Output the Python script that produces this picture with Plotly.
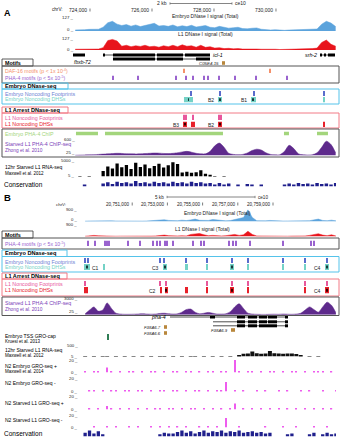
import plotly.graph_objects as go

W, H = 342, 440
FONT = "Liberation Sans, Arial, sans-serif"

# ================= DATA: panel A (chrV, ce10) =================
A_RANGE = [723452, 731936]
A_TICKS = [724000, 726000, 728000, 730000]
A_TICK_LABELS = ["724,000", "726,000", "728,000", "730,000"]
A_SCALE = [726580, 728580]          # 2 kb
A_BIN_START, A_BIN_SIZE = 723450, 150

A_EMB_DNASE = [10, 14, 12, 15, 18, 16, 35, 75, 88, 62, 50, 58, 44, 55, 40, 52,
               62, 70, 45, 50, 42, 55, 38, 48, 40, 52, 36, 45, 50, 34, 30, 42,
               36, 26, 30, 34, 22, 20, 25, 28, 16, 12, 9, 12, 7, 6, 9, 11, 7,
               9, 11, 14, 18, 62, 88, 72, 40]
A_L1_DNASE = [8, 10, 8, 10, 12, 10, 25, 100, 112, 95, 40, 50, 35, 45, 38, 50,
              35, 40, 30, 45, 35, 50, 35, 55, 40, 45, 30, 50, 28, 35, 20, 25,
              15, 18, 12, 15, 10, 12, 15, 10, 8, 10, 6, 8, 5, 6, 8, 5, 6, 8,
              10, 15, 20, 80, 105, 60, 40]
A_PHA4_CHIP = [10, 15, 20, 25, 30, 40, 50, 60, 70, 80, 75, 65, 60, 55, 60, 70,
               80, 90, 85, 75, 70, 80, 100, 130, 150, 120, 80, 60, 60, 150, 350,
               450, 300, 80, 40, 30, 40, 90, 180, 230, 200, 100, 40, 25, 30,
               150, 370, 250, 60, 25, 20, 30, 100, 300, 520, 400, 100]
A_RNASEQ = [0, 60, 0, 80, 0, 0, 1800, 3200, 2600, 4200, 3000, 3700, 2400, 4400,
            3100, 3900, 2700, 3400, 4100, 2900, 3600, 4600, 4000, 1300, 1500,
            1200, 1400, 2000, 900, 600, 150, 0, 40, 0, 0, 0, 0, 0, 0, 0, 0, 0,
            0, 0, 0, 0, 0, 0, 0, 0, 0, 0, 0, 0, 0, 0, 0]
A_CONS = [0, 0, 0.2, 0, 0, 0, 0.5, 0.7, 0.4, 0.8, 0.6, 0.7, 0.5, 0.9, 0.6, 0.7,
          0.5, 0.8, 0.6, 0.7, 0.5, 0.8, 0.6, 0.7, 0.5, 0.8, 0.6, 0.7, 0.5, 0.6,
          0.3, 0.6, 0.2, 0.5, 0, 0.3, 0, 0.4, 0.2, 0, 0.3, 0, 0, 0, 0, 0.3,
          0.5, 0.2, 0.6, 0.4, 0.5, 0.3, 0.6, 0.4, 0.5, 0.3, 0.6]

A_DAF16_MOTIFS = [727030, 729810]
A_PHA4_MOTIFS = [724742, 725548, 726774, 727097, 727323, 727677, 727806,
                 728161, 728677, 729355, 730355]
A_EMB_FOOTPRINTS = [727258, 728194, 729290, 731548]
A_EMB_DHS = [(727032, 727323), (728129, 728258), (729194, 729355), (731532, 731565)]
A_EMB_DHS_NAMES = ["", "B2", "B1", ""]
A_EMB_SUMMITS = [727178, 728194, 729274]
A_L1_FOOTPRINTS = [727032, 727097, 727323, 728161, 728226]
A_L1_DHS = [(727000, 727129), (727258, 727387), (728129, 728258), (731532, 731565)]
A_L1_DHS_NAMES = ["B3", "", "B2", ""]
A_L1_SUMMITS = [727065, 728194]
A_EMB_PHA4_PEAKS = [(723548, 724258), (724484, 728290), (730258, 730419), (731323, 731677)]

A_GENES = [  # name, start, end, exons
    ("fbxb-72", 723452, 723839, [(723452, 723839)]),
    ("icl-1", 724419, 727871, [(724419, 724484), (724742, 726097), (726161, 727000), (727065, 727871)]),
    ("", 724742, 727871, [(724742, 726097), (726161, 727000), (727419, 727871)]),
    ("srh-2", 731419, 731903, [(731419, 731484), (731548, 731613), (731677, 731903)]),
]
A_SMALL_GENES = [("C05E4.15", 728258, 728355)]

# ================= DATA: panel B (chrV, ce10) =================
B_RANGE = [20748204, 20762580]
B_TICKS = [20751000, 20753000, 20755000, 20757000, 20759000]
B_TICK_LABELS = ["20,751,000", "20,753,000", "20,755,000", "20,757,000", "20,759,000"]
B_SCALE = [20752980, 20757980]      # 5 kb
B_BIN_START, B_BIN_SIZE = 20748200, 250

B_EMB_DNASE = [30, 40, 35, 50, 60, 80, 50, 40, 30, 35, 30, 40, 35, 30, 40, 50,
               60, 90, 130, 80, 50, 60, 100, 70, 120, 180, 90, 60, 80, 150, 100,
               60, 50, 70, 150, 200, 300, 880, 300, 60, 40, 50, 80, 50, 40, 35,
               40, 30, 40, 35, 50, 60, 120, 180, 80, 60, 100, 50]
B_L1_DNASE = [20, 60, 80, 50, 30, 40, 30, 20, 25, 20, 30, 25, 20, 20, 25, 30,
              40, 80, 100, 60, 30, 40, 50, 40, 150, 200, 220, 120, 60, 80, 50,
              40, 60, 120, 150, 80, 120, 380, 150, 40, 30, 25, 20, 30, 20, 25,
              20, 30, 25, 20, 40, 80, 150, 200, 100, 60, 120, 40]
B_PHA4_CHIP = [200, 900, 1500, 700, 900, 2250, 1200, 300, 150, 100, 100, 120,
               150, 200, 150, 120, 150, 250, 300, 200, 150, 200, 500, 1000, 1100,
               500, 200, 300, 450, 300, 150, 150, 200, 600, 1500, 2100, 1200, 300,
               150, 100, 80, 80, 100, 120, 100, 150, 120, 100, 150, 300, 900,
               1500, 1000, 500, 1500, 2400, 1800, 400]
B_RNASEQ = [5, 0, 5, 0, 5, 5, 0, 5, 0, 5, 0, 5, 0, 5, 0, 5, 0, 5, 5, 0, 5, 0, 5,
            0, 5, 5, 0, 5, 0, 5, 0, 5, 0, 5, 0, 60, 120, 130, 220, 140, 120, 130,
            240, 140, 130, 120, 130, 125, 110, 30, 0, 5, 0, 5, 0, 0, 0, 0]
B_GRO_EMB_PLUS = [1, 0, 1, 1, 0, 8, 1, 0, 1, 0, 1, 1, 0, 1, 0, 1, 1, 0, 1, 0, 2,
                  1, 0, 1, 1, 0, 1, 0, 1, 1, 0, 1, 1, 0, 20, 1, 0, 1, 1, 0, 1, 0,
                  1, 1, 0, 1, 0, 1, 1, 0, 1, 0, 1, 2, 1, 0, 1, 0]
B_GRO_EMB_MINUS = [0, 1, 1, 0, 1, 0, 1, 1, 0, 1, 1, 0, 1, 1, 0, 1, 0, 1, 1, 0,
                   1, 1, 0, 1, 0, 1, 1, 0, 1, 0, 1, 1, 14, 0, 1, 0, 1, 0, 0, 1,
                   0, 1, 0, 0, 1, 0, 1, 0, 0, 1, 0, 1, 0, 0, 1, 0, 0, 1]
B_GRO_L1_PLUS = [0, 1, 0, 1, 0, 5, 1, 0, 1, 0, 1, 0, 1, 0, 1, 0, 1, 1, 0, 1, 1,
                 0, 1, 0, 1, 1, 0, 1, 0, 1, 0, 1, 0, 1, 9, 0, 1, 0, 1, 0, 1, 0,
                 1, 0, 1, 0, 1, 0, 1, 0, 1, 0, 1, 0, 1, 0, 1, 0]
B_GRO_L1_MINUS = [0, 0, 1, 0, 0, 1, 0, 1, 0, 0, 1, 0, 1, 0, 0, 1, 0, 1, 0, 1, 0,
                  1, 0, 1, 0, 0, 1, 0, 1, 0, 1, 0, 15, 0, 0, 1, 0, 0, 0, 0, 0, 1,
                  0, 0, 0, 1, 0, 0, 1, 0, 0, 0, 1, 0, 0, 1, 0, 0]
B_CONS = [0.5, 0.8, 0.4, 0.7, 0.3, 0, 0, 0, 0, 0, 0, 0, 0, 0, 0, 0, 0, 0.3, 0.5,
          0.4, 0.4, 0.6, 0.8, 0.5, 0.7, 0.4, 0.6, 0.8, 0.5, 0.7, 0.6, 0.8, 0.5,
          0.7, 0.6, 0.8, 0.5, 0.6, 0.7, 0.5, 0.6, 0.4, 0.5, 0, 0, 0, 0.3, 0.4,
          0, 0, 0, 0.3, 0.5, 0, 0.3, 0.5, 0.3, 0.4]

B_PHA4_MOTIFS = [20748488, 20748886, 20749454, 20749568, 20749682, 20750761,
                 20751443, 20752182, 20752409, 20752579, 20752863, 20752977,
                 20753318, 20754454, 20754909, 20755079, 20756500, 20756727,
                 20756898, 20757693, 20759568, 20761159, 20761330]
B_EMB_FOOTPRINTS = [20748318, 20748488, 20752579, 20752807, 20754057, 20755250,
                    20756670, 20757580, 20759568, 20760818, 20762068]
B_EMB_DHS = [(20748261, 20748602), (20749341, 20749454), (20752750, 20752977),
             (20754000, 20754170), (20755193, 20755307), (20756557, 20756784),
             (20757551, 20757608), (20759540, 20759597), (20760761, 20760875),
             (20761955, 20762182)]
B_EMB_DHS_NAMES = ["", "C1", "C3", "", "", "", "", "", "", "C4"]
B_EMB_SUMMITS = [20748431, 20752863, 20756670, 20762068]
B_L1_FOOTPRINTS = [20748318, 20752579, 20752920, 20755250, 20756670, 20757580,
                   20760818, 20762068]
B_L1_DHS = [(20748261, 20748488), (20752579, 20752693), (20752863, 20753034),
            (20754000, 20754170), (20755193, 20755307), (20756557, 20756784),
            (20757551, 20757608), (20760761, 20760875), (20761955, 20762182)]
B_L1_DHS_NAMES = ["", "C2", "", "", "", "", "", "", "C4"]
B_L1_SUMMITS = [20752948, 20756670, 20762068]
B_GROCAP = [20749625]

B_GENES = [  # name, start, end, exons
    ("pha-4", 20753148, 20759852, [(20755420, 20755704), (20756954, 20757409), (20757580, 20758091),
                                   (20758205, 20758659), (20758716, 20759227), (20759682, 20759852)]),
    ("", 20755591, 20759852, [(20756954, 20757409), (20757580, 20758091), (20758205, 20758659),
                              (20758716, 20759227), (20759682, 20759852)]),
    ("", 20755591, 20759852, [(20756954, 20757409), (20757580, 20758091), (20758205, 20759227),
                              (20759682, 20759852)]),
]
B_SMALL_GENES = [("F38A6.7", 20752807, 20752977), ("F38A6.9", 20756614, 20756841),
                 ("F38A6.6", 20752807, 20752977)]

# ================= styling / layout helpers =================
C_BLUE = "#5ba3dc"
C_RED = "#e8141c"
C_PURPLE_SIG = "#5e2a8c"
C_PURPLE_TXT = "#7b41b8"
C_MOTIF = "#9a63cf"
C_DAF = "#f4906a"
C_EMB_BOX = "#55c3ea"
C_EMB_FP = "#5a6ccc"
C_EMB_FP_TXT = "#6d7fd4"
C_EMB_DHS = "#74d2c6"
C_L1_BOX = "#f27b86"
C_L1_FP = "#e8579b"
C_L1_DHS = "#e8202a"
C_GREEN = "#a3d57c"
C_CONS = "#1f1f8c"
C_GRO = "#ee5cee"
C_BROWN = "#b8873c"

fig = go.Figure()
axes = {}
anns = []
shapes = []
ycount = [0]

axes["xaxis"] = dict(domain=[73 / W, 336 / W], range=A_RANGE, visible=False, anchor="y", fixedrange=True)
axes["xaxis2"] = dict(domain=[83 / W, 336 / W], range=B_RANGE, visible=False, anchor="y", fixedrange=True)


def band(xa, top, bottom, yr):
    ycount[0] += 1
    n = ycount[0]
    key = "yaxis" if n == 1 else "yaxis%d" % n
    axes[key] = dict(domain=[1 - bottom / H, 1 - top / H], range=yr, visible=False,
                     anchor=xa, fixedrange=True)
    return "y" if n == 1 else "y%d" % n


def centers(start, size, vals):
    return [start + size * (i + 0.5) for i in range(len(vals))]


def area(xa, ya, start, size, vals, color, shape="linear"):
    fig.add_trace(go.Scatter(x=centers(start, size, vals), y=vals, xaxis=xa, yaxis=ya,
                             mode="lines", fill="tozeroy", fillcolor=color,
                             line=dict(color=color, width=0.5, shape=shape, smoothing=0.8),
                             hoverinfo="skip"))


def bars(xa, ya, start, size, vals, color, frac):
    fig.add_trace(go.Bar(x=centers(start, size, vals), y=vals, width=size * frac, xaxis=xa, yaxis=ya,
                         marker=dict(color=color, line=dict(width=0)), hoverinfo="skip"))


def ticks(xa, ya, pos, color, w):
    fig.add_trace(go.Bar(x=pos, y=[1] * len(pos), base=0, width=w, xaxis=xa, yaxis=ya,
                         marker=dict(color=color, line=dict(width=0)), hoverinfo="skip"))


def intervals(xa, ya, ivs, color, minw, base=0, height=1):
    fig.add_trace(go.Bar(x=[(s + e) / 2 for s, e in ivs], y=[height] * len(ivs), base=base,
                         width=[max(e - s, minw) for s, e in ivs], xaxis=xa, yaxis=ya,
                         marker=dict(color=color, line=dict(width=0)), hoverinfo="skip"))


def gene(xa, ya, row, start, end, exons, lw=3):
    fig.add_trace(go.Scatter(x=[start, end], y=[row, row], xaxis=xa, yaxis=ya, mode="lines",
                             line=dict(color="black", width=0.7), hoverinfo="skip"))
    xs, ys = [], []
    for s, e in exons:
        xs += [s, e, None]
        ys += [row, row, None]
    fig.add_trace(go.Scatter(x=xs, y=ys, xaxis=xa, yaxis=ya, mode="lines",
                             line=dict(color="black", width=lw), hoverinfo="skip"))


def txt(s, x, y, size=5.0, color="black", anchor="left", bold=False, italic=False,
        xref="paper", xshift=0):
    if bold:
        s = "<b>%s</b>" % s
    if italic:
        s = "<i>%s</i>" % s
    anns.append(dict(text=s, x=(x / W if xref == "paper" else x), y=1 - y / H, xref=xref,
                     yref="paper", xanchor=anchor, yanchor="middle", showarrow=False,
                     xshift=xshift, borderpad=0,
                     font=dict(size=size, color=color, family=FONT)))


def rect(x0, y0, x1, y1, color, lw=1.0):
    shapes.append(dict(type="rect", xref="paper", yref="paper", x0=x0 / W, x1=x1 / W,
                       y0=1 - y1 / H, y1=1 - y0 / H, line=dict(color=color, width=lw),
                       fillcolor="rgba(0,0,0,0)", layer="above"))


def coord_axis(xref, tick_vals, tick_labels, scale, scale_label, y, size, scale_y):
    for t, lab in zip(tick_vals, tick_labels):
        txt(lab, t, y, size, "#222", anchor="right", xref=xref, xshift=-2)
        shapes.append(dict(type="line", xref=xref, yref="paper", x0=t, x1=t,
                           y0=1 - (y + 1.5) / H, y1=1 - (y - 1.5) / H,
                           line=dict(color="#444", width=0.7)))
    shapes.append(dict(type="line", xref=xref, yref="paper", x0=scale[0], x1=scale[1],
                       y0=1 - scale_y / H, y1=1 - scale_y / H, line=dict(color="#666", width=0.8)))
    for xv in scale:
        shapes.append(dict(type="line", xref=xref, yref="paper", x0=xv, x1=xv,
                           y0=1 - (scale_y + 1.2) / H, y1=1 - (scale_y - 1.2) / H,
                           line=dict(color="#666", width=0.7)))
    txt(scale_label, scale[0], scale_y, size, "#222", anchor="right", xref=xref, xshift=-2)
    txt("ce10", scale[1], scale_y, size, "#222", anchor="left", xref=xref, xshift=2)


def labeled_dhs(xref, ivs, names, y, size=5):
    for (s, e), nm in zip(ivs, names):
        if nm:
            txt(nm, s, y, size, "#222", anchor="right", xref=xref, xshift=-3)


# ================= PANEL A =================
txt("A", 3, 13, 9, bold=True)
coord_axis("x", A_TICKS, A_TICK_LABELS, A_SCALE, "2 kb", 10, 5, 3.5)
txt("chrV:", 51, 10, 4.6, "#222")

ya = band("x", 17, 31, [0, 127])
area("x", ya, A_BIN_START, A_BIN_SIZE, A_EMB_DNASE, C_BLUE)
txt("Embryo DNase I signal (Total)", 205, 15.5, 5, "#222", anchor="center")
txt("127 _", 75, 18, 4.4, "#222", anchor="right")
txt("0 _", 75, 30, 4.4, "#222", anchor="right")

ya = band("x", 38, 50, [0, 127])
area("x", ya, A_BIN_START, A_BIN_SIZE, A_L1_DNASE, C_RED)
txt("L1 DNase I signal (Total)", 205, 34, 5, "#222", anchor="center")
txt("127 _", 75, 38.5, 4.4, "#222", anchor="right")
txt("0 _", 75, 49.5, 4.4, "#222", anchor="right")

ya = band("x", 53, 65, [2.5, -0.5])
gene_rows_A = [0, 0, 1, 0]
for (nm, s, e, ex), r in zip(A_GENES, gene_rows_A):
    gene("x", ya, r, s, e, ex, lw=3)
txt("fbxb-72", A_GENES[0][1], 61.5, 5, anchor="left", italic=True, xref="x")
txt("icl-1", A_GENES[1][2], 55, 5.3, anchor="left", italic=True, xref="x", xshift=2)
txt("srh-2", A_GENES[3][1], 55, 5.3, anchor="right", italic=True, xref="x", xshift=-2)
for nm, s, e in A_SMALL_GENES:
    intervals("x", ya, [(s, e)], C_BROWN, 80, base=1.55, height=0.9)
    txt(nm, s, 63, 4.4, "#222", anchor="right", italic=True, xref="x", xshift=-2)

# motifs
rect(2, 59, 33, 66, "#333", 0.8)
txt("Motifs", 4, 62.5, 5.4, bold=True)
rect(2, 66, 339, 83, "#555", 1)
txt("DAF-16 motifs (p < 1x 10<sup>-4</sup>)", 4, 71, 5.2, C_DAF)
txt("PHA-4 motifs (p < 5x 10<sup>-5</sup>)", 4, 78, 5.2, C_MOTIF)
ya = band("x", 68.5, 73, [0, 1])
ticks("x", ya, A_DAF16_MOTIFS, C_DAF, 40)
ya = band("x", 75.5, 80, [0, 1])
ticks("x", ya, A_PHA4_MOTIFS, C_MOTIF, 40)

# embryo DNase-seq
rect(2, 83, 68, 89, C_EMB_BOX, 1)
txt("Embryo DNase-seq", 4, 86, 5.6, bold=True)
rect(2, 89, 339, 104, C_EMB_BOX, 1)
txt("Embryo Noncoding Footprints", 4, 93.5, 5.3, C_EMB_FP_TXT)
txt("Embryo Noncoding DHSs", 4, 99.5, 5.3, C_EMB_DHS)
ya = band("x", 91, 96, [0, 1])
ticks("x", ya, A_EMB_FOOTPRINTS, C_EMB_FP, 45)
ya = band("x", 97, 102.5, [0, 1])
intervals("x", ya, A_EMB_DHS, C_EMB_DHS, 32)
intervals("x", ya, [(p - 16, p + 16) for p in A_EMB_SUMMITS], "#1a3a3a", 32, base=0.25, height=0.5)
labeled_dhs("x", A_EMB_DHS, A_EMB_DHS_NAMES, 100)

# L1 DNase-seq
rect(2, 107, 68, 113, C_L1_BOX, 1)
txt("L1 Arrest DNase-seq", 4, 110, 5.6, bold=True)
rect(2, 113, 339, 128, C_L1_BOX, 1)
txt("L1 Noncoding Footprints", 4, 117.5, 5.3, C_L1_FP)
txt("L1 Noncoding DHSs", 4, 123.5, 5.3, C_L1_DHS)
ya = band("x", 114.5, 120, [0, 1])
ticks("x", ya, A_L1_FOOTPRINTS, C_L1_FP, 40)
ya = band("x", 121.5, 127, [0, 1])
intervals("x", ya, A_L1_DHS, C_L1_DHS, 32)
intervals("x", ya, [(p - 16, p + 16) for p in A_L1_SUMMITS], "#3a0000", 32, base=0.25, height=0.5)
labeled_dhs("x", A_L1_DHS, A_L1_DHS_NAMES, 124.5)

# PHA-4 ChIP
rect(2, 129, 339, 157, "#555", 1)
txt("Embryo PHA-4 ChIP", 4, 133.5, 5.3, C_GREEN)
ya = band("x", 131.5, 135.5, [0, 1])
intervals("x", ya, A_EMB_PHA4_PEAKS, C_GREEN, 32)
txt("Starved L1 PHA-4 ChIP-seq", 4, 144, 5.3, C_PURPLE_TXT)
txt("Zhong et al. 2010", 4, 150.5, 4.8, C_PURPLE_TXT)
txt("600 _", 76, 139.5, 4.3, "#222", anchor="right")
txt("25 _", 76, 153, 4.3, "#222", anchor="right")
ya = band("x", 139, 155.5, [0, 600])
area("x", ya, A_BIN_START, A_BIN_SIZE, A_PHA4_CHIP, C_PURPLE_SIG, shape="spline")

# RNA-seq
txt("5000 _", 76, 160.5, 4.3, "#222", anchor="right")
txt("5 _", 76, 175.5, 4.3, "#222", anchor="right")
txt("12hr Starved L1 RNA-seq", 4, 167, 5)
txt("Maxwell et al. 2012", 4, 173, 4.5)
ya = band("x", 161, 176.5, [0, 5000])
bars("x", ya, A_BIN_START, A_BIN_SIZE, A_RNASEQ, "black", 0.7)

# conservation
txt("Conservation", 3, 184, 6.5)
ya = band("x", 180.5, 186.5, [0, 1])
bars("x", ya, A_BIN_START, A_BIN_SIZE, A_CONS, C_CONS, 0.75)

# ================= PANEL B =================
txt("B", 3, 198, 9.5, bold=True)
coord_axis("x2", B_TICKS, B_TICK_LABELS, B_SCALE, "5 kb", 204, 4.6, 197)
txt("chrV:", 55, 204, 4.4, "#222")

ya = band("x2", 209.5, 221.5, [0, 900])
area("x2", ya, B_BIN_START, B_BIN_SIZE, B_EMB_DNASE, C_BLUE)
txt("Embryo DNase I signal (Total)", 217, 213, 5, "#222", anchor="center")
txt("900 _", 78, 209.5, 4.2, "#222", anchor="right")
txt("0 _", 78, 219.8, 4.2, "#222", anchor="right")

ya = band("x2", 224, 236.5, [0, 900])
area("x2", ya, B_BIN_START, B_BIN_SIZE, B_L1_DNASE, C_RED)
txt("L1 DNase I signal (Total)", 202, 228.5, 5, "#222", anchor="center")
txt("900 _", 78, 224.5, 4.2, "#222", anchor="right")

rect(2, 231, 33, 238, "#333", 0.8)
txt("Motifs", 4, 234.5, 5.4, bold=True)
rect(2, 238, 339, 249, "#555", 1)
txt("PHA-4 motifs (p < 5x 10<sup>-5</sup>)", 4, 243.5, 5.2, C_MOTIF)
ya = band("x2", 240.5, 246, [0, 1])
ticks("x2", ya, B_PHA4_MOTIFS, C_MOTIF, 60)

rect(2, 250, 67, 256.5, C_EMB_BOX, 1)
txt("Embryo DNase-seq", 4, 253.2, 5.6, bold=True)
rect(2, 256.5, 339, 272, C_EMB_BOX, 1)
txt("Embryo Noncoding Footprints", 4, 261.5, 5.3, C_EMB_FP_TXT)
txt("Embryo Noncoding DHSs", 4, 267, 5.3, C_EMB_DHS)
ya = band("x2", 258, 263, [0, 1])
ticks("x2", ya, B_EMB_FOOTPRINTS, C_EMB_FP, 70)
ya = band("x2", 264, 270, [0, 1])
intervals("x2", ya, B_EMB_DHS, C_EMB_DHS, 57)
intervals("x2", ya, [(p - 28, p + 28) for p in B_EMB_SUMMITS], "#1a3a3a", 57, base=0.25, height=0.5)
labeled_dhs("x2", B_EMB_DHS, B_EMB_DHS_NAMES, 267.5)

rect(2, 273, 67, 279, C_L1_BOX, 1)
txt("L1 Arrest DNase-seq", 4, 276, 5.6, bold=True)
rect(2, 279, 339, 296, C_L1_BOX, 1)
txt("L1 Noncoding Footprints", 4, 284, 5.3, C_L1_FP)
txt("L1 Noncoding DHSs", 4, 290, 5.3, C_L1_DHS)
ya = band("x2", 281, 286, [0, 1])
ticks("x2", ya, B_L1_FOOTPRINTS, C_L1_FP, 65)
ya = band("x2", 287, 293.5, [0, 1])
intervals("x2", ya, B_L1_DHS, C_L1_DHS, 57)
intervals("x2", ya, [(p - 28, p + 28) for p in B_L1_SUMMITS], "#3a0000", 57, base=0.25, height=0.5)
labeled_dhs("x2", B_L1_DHS, B_L1_DHS_NAMES, 290.5)

rect(2, 297, 339, 315.5, "#555", 1)
txt("Starved L1 PHA-4 ChIP-seq", 4, 302.5, 5.3, C_PURPLE_TXT)
txt("Zhong et al. 2010", 4, 309, 4.8, C_PURPLE_TXT)
txt("3000 _", 79, 298.5, 4.3, "#222", anchor="right")
txt("25 _", 79, 311, 4.3, "#222", anchor="right")
ya = band("x2", 299, 314.8, [0, 3000])
area("x2", ya, B_BIN_START, B_BIN_SIZE, B_PHA4_CHIP, C_PURPLE_SIG, shape="spline")

# genes B
ya = band("x2", 315, 337, [5, -0.5])
gene_rows_B = [0, 1.2, 2.2]
for (nm, s, e, ex), r in zip(B_GENES, gene_rows_B):
    gene("x2", ya, r, s, e, ex, lw=3)
txt("pha-4", B_GENES[0][1], 317, 5.4, anchor="right", italic=True, xref="x2", xshift=-3)
small_rows_B = [2.5, 3.25, 4]
small_y_B = [327, 330, 333]
for (nm, s, e), r, yy in zip(B_SMALL_GENES, small_rows_B, small_y_B):
    intervals("x2", ya, [(s, e)], C_BROWN, 57, base=r - 0.45, height=0.9)
    txt(nm, s, yy, 4.3, "#222", anchor="right", italic=True, xref="x2", xshift=-2)

# GRO-cap
txt("Embryo TSS GRO-cap", 4, 335.5, 5)
txt("Kruesi et al. 2013", 4, 341, 4.5)
ya = band("x2", 334, 340, [0, 1])
ticks("x2", ya, B_GROCAP, "#2f7d55", 60)

# RNA-seq B
txt("500 _", 79, 345, 4.3, "#222", anchor="right")
txt("5 _", 79, 356, 4.3, "#222", anchor="right")
txt("12hr Starved L1 RNA-seq", 4, 349.5, 5)
txt("Maxwell et al. 2012", 4, 355, 4.5)
ya = band("x2", 345, 356.5, [0, 500])
bars("x2", ya, B_BIN_START, B_BIN_SIZE, B_RNASEQ, "#111", 0.9)

# GRO-seq tracks
gro = [
    ("N2 Embryo GRO-seq +", B_GRO_EMB_PLUS, 360, 372.5, 365.5),
    ("N2 Embryo GRO-seq -", B_GRO_EMB_MINUS, 378, 391.5, 383),
    ("N2 Starved L1 GRO-seq +", B_GRO_L1_PLUS, 396, 409.5, 402.5),
    ("N2 Starved L1 GRO-seq -", B_GRO_L1_MINUS, 415, 427.5, 420),
]
for name, vals, top, bot, ty in gro:
    txt("20 _", 79, top, 4.3, "#222", anchor="right")
    txt("0 _", 79, bot - 0.5, 4.3, "#222", anchor="right")
    txt(name, 4, ty, 5)
    ya = band("x2", top, bot, [0, 20])
    bars("x2", ya, B_BIN_START, B_BIN_SIZE, vals, C_GRO, 0.3)
txt("Maxwell et al. 2014", 4, 371, 4.5)

txt("Conservation", 3, 433, 6.5)
ya = band("x2", 429, 436.5, [0, 1])
bars("x2", ya, B_BIN_START, B_BIN_SIZE, B_CONS, C_CONS, 0.75)

fig.update_layout(width=W, height=H, margin=dict(l=0, r=0, t=0, b=0),
                  paper_bgcolor="white", plot_bgcolor="rgba(0,0,0,0)",
                  showlegend=False, barmode="overlay", annotations=anns, shapes=shapes,
                  font=dict(family=FONT), **axes)
fig.write_html("out.html", config={"displayModeBar": False},
               post_script="document.body.style.margin='0px';document.body.style.padding='0px';")
